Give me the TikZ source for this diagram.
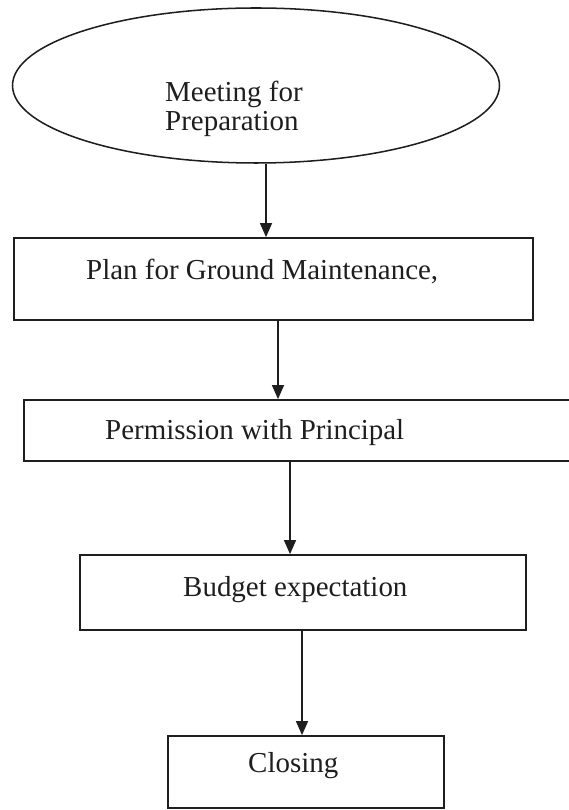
\documentclass[tikz,border=0pt]{standalone}
\usepackage{fontspec}
\setmainfont{Liberation Serif}
\usetikzlibrary{arrows.meta,shapes.geometric}
\definecolor{scanink}{HTML}{1E1E1E}
\tikzset{
  flowtext/.style={font=\fontsize{24.7}{24.7}\selectfont, text=scanink, inner sep=0pt},
  startoval/.style={draw=scanink, ellipse, line width=1.3pt, inner sep=0pt,
    minimum width=14.61cm, minimum height=4.65cm},
  flowbox/.style={draw=scanink, rectangle, line width=1.5pt, inner sep=0pt},
  flowarrow/.style={-{Triangle[length=4.2mm,width=3.6mm]}, draw=scanink, line width=1.2pt}
}

\begin{document}
\begin{tikzpicture}[x=1cm,y=1cm]
  \useasboundingbox (0,0) rectangle (17.07,24.3);
  % flow steps, top to bottom; labels sit off-centre as in the scan
  \node[startoval] (meet) at (7.68,21.735) {};
  \node[flowtext, anchor=north west, align=left] (meettext) at (4.95,21.87) {Meeting for\\Preparation};

  \node[flowbox, minimum width=15.57cm, minimum height=2.46cm] (plan) at (8.205,15.93) {};
  \node[flowtext, anchor=base west] (plantext) at (2.58,15.9) {Plan for Ground Maintenance,};

  \node[flowbox, minimum width=17.28cm, minimum height=1.83cm] (perm) at (9.36,11.385) {};
  \node[flowtext, anchor=base west] (permtext) at (3.15,11.1) {Permission with Principal};

  \node[flowbox, minimum width=13.38cm, minimum height=2.25cm] (budget) at (9.09,6.525) {};
  \node[flowtext, anchor=base west] (budgettext) at (5.49,6.39) {Budget expectation};

  \node[flowbox, minimum width=8.28cm, minimum height=2.16cm] (close) at (9.18,1.14) {};
  \node[flowtext, anchor=base west] (closetext) at (7.44,1.11) {Closing};

  \coordinate (a1) at (7.98,0);
  \coordinate (a2) at (8.34,0);
  \coordinate (a3) at (8.70,0);
  \coordinate (a4) at (9.06,0);
  \draw[flowarrow] (a1 |- meet.south) -- (a1 |- plan.north);
  \draw[flowarrow] (a2 |- plan.south) -- (a2 |- perm.north);
  \draw[flowarrow] (a3 |- perm.south) -- (a3 |- budget.north);
  \draw[flowarrow] (a4 |- budget.south) -- (a4 |- close.north);
\end{tikzpicture}
\end{document}
